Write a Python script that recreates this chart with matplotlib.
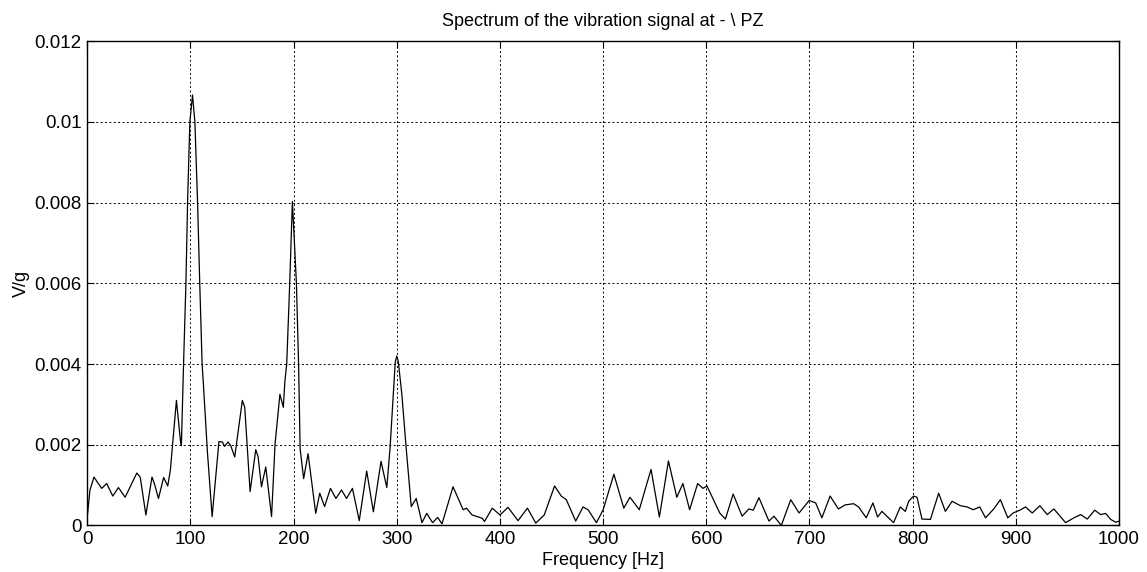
import matplotlib
matplotlib.use("Agg")
import matplotlib.pyplot as plt

freq_hz = [
    0, 2.6, 6.5, 10.7, 14, 18.8, 24.7, 30.2, 36.7, 48, 51.3, 56.8, 62.7, 65, 69, 74, 78,
    80.5, 83, 86.4, 90.3, 91.2, 93.3, 95.6, 97.2, 99.4, 102, 104.3, 106.9, 109, 111.3,
    112.3, 116.5, 121, 127.6, 131, 133, 136.4, 139, 142.9, 150.3, 152.6, 157.8, 163.3,
    165.6, 168.8, 173, 178.6, 182, 186.7, 190, 191.6, 193.3, 196.2, 198.8, 202.7, 204.8,
    206.3, 209.7, 214, 221.4, 225.3, 230, 235.7, 241, 246.4, 251.3, 257, 263.6, 270.8,
    277.3, 284.7, 290.3, 293.5, 296.8, 298.5, 300, 301.5, 304.9, 309, 314, 318.8, 324.4,
    329, 334.7, 339.6, 343.8, 354.5, 364.3, 367.5, 373, 382.8, 385, 392.5, 400, 407.8,
    417.5, 426.6, 434.7, 442.9, 452.9, 459.4, 464.3, 473.4, 480.5, 485.4, 493.5, 500,
    510.4, 520, 526, 535, 546.4, 554.5, 563.3, 571.4, 577.3, 583.8, 591.6, 596.8, 600.6,
    613, 618.5, 626, 634.7, 641.2, 645.5, 651, 660.7, 665.6, 672.7, 681.8, 689.9, 699.7,
    706, 712, 720, 728, 734.6, 742.7, 747.6, 755, 761.5, 766, 770.2, 775, 781.5, 788,
    792.9, 796.1, 801, 804.2, 809, 817.2, 825.2, 831.7, 838.2, 846.3, 852.8, 858.6, 865,
    870.6, 878.6, 885, 892.2, 897.4, 903.9, 909.4, 915.9, 923.3, 930.4, 936.9, 948.2,
    956.3, 962.8, 969.3, 976.4, 982.2, 987, 992, 996.8, 1000,
]
amplitude = [
    0.00022, 0.00088, 0.0012, 0.00104, 0.00092, 0.00104, 0.00073, 0.00094, 0.0007, 0.0013,
    0.0012, 0.00026, 0.0012, 0.00104, 0.00067, 0.00119, 0.00098, 0.00137, 0.0021, 0.0031,
    0.0021, 0.00198, 0.004, 0.006, 0.008, 0.01, 0.01067, 0.01, 0.008, 0.006, 0.004, 0.0036,
    0.0018, 0.00022, 0.00208, 0.00207, 0.00196, 0.00207, 0.00198, 0.0017, 0.0031, 0.00293,
    0.00084, 0.00188, 0.0017, 0.00096, 0.00145, 0.00022, 0.00202, 0.00325, 0.00293, 0.0036,
    0.004, 0.006, 0.00803, 0.006, 0.004, 0.0019, 0.00116, 0.00178, 0.0003, 0.0008, 0.00047,
    0.00092, 0.00067, 0.00088, 0.00067, 0.00092, 0.00012, 0.00135, 0.00034, 0.00159,
    0.00094, 0.00194, 0.00334, 0.00405, 0.0042, 0.00405, 0.00325, 0.00194, 0.00047,
    0.00067, 0.00007, 0.0003, 0.00007, 0.0002, 0.00004, 0.00096, 0.00039, 0.00043, 0.00026,
    0.00018, 0.0001, 0.00043, 0.00026, 0.00045, 0.00012, 0.00043, 0.00006, 0.00026,
    0.00098, 0.00073, 0.00064, 0.00011, 0.00046, 0.00039, 0.00007, 0.00039, 0.00127,
    0.00043, 0.0007, 0.00039, 0.00139, 0.00021, 0.0016, 0.0007, 0.00104, 0.00039, 0.00104,
    0.00092, 0.00098, 0.00031, 0.00016, 0.00078, 0.00023, 0.00041, 0.00038, 0.00069,
    0.00011, 0.00023, 0.0, 0.00064, 0.00031, 0.00062, 0.00056, 0.00019, 0.00073, 0.00041,
    0.00051, 0.00054, 0.00046, 0.00019, 0.00056, 0.00021, 0.00035, 0.00023, 0.00007,
    0.00046, 0.00035, 0.0006, 0.00073, 0.0007, 0.00016, 0.00015, 0.0008, 0.00035, 0.0006,
    0.00049, 0.00046, 0.00039, 0.00046, 0.00019, 0.00041, 0.00064, 0.00019, 0.00031,
    0.00038, 0.00046, 0.00031, 0.00049, 0.00027, 0.00041, 0.00007, 0.00019, 0.00027,
    0.00016, 0.00038, 0.00027, 0.0003, 0.00015, 0.00008, 0.00011,
]
x_ticks = list(range(0, 1001, 100))
y_ticks = [0, 0.002, 0.004, 0.006, 0.008, 0.01, 0.012]
y_tick_labels = ["0", "0.002", "0.004", "0.006", "0.008", "0.01", "0.012"]

plt.rcParams['font.family'] = ['Liberation Sans', 'DejaVu Sans']

fig = plt.figure(figsize=(11.47, 5.72), dpi=100)
ax = fig.add_axes([0.0761, 0.0813, 0.8995, 0.8465])
ax.plot(freq_hz, amplitude, color='black', linewidth=0.9)

ax.set_xlim(0, 1000)
ax.set_ylim(0, 0.012)
ax.set_xticks(x_ticks)
ax.set_yticks(y_ticks)
ax.set_yticklabels(y_tick_labels)
ax.tick_params(direction='in', top=True, right=True, labelsize=13.5, length=5, pad=4)
ax.grid(True, color='black', linestyle=(0, (2, 2.5)), linewidth=0.7)
for s in ax.spines.values():
    s.set_linewidth(1.0)

ax.set_title("Spectrum of the vibration signal at - \\ PZ", fontsize=13, pad=11)
ax.set_xlabel("Frequency [Hz]", fontsize=13, labelpad=3)
ax.set_ylabel("V/g", fontsize=13, labelpad=3)

fig.savefig("out.png", dpi=100)
